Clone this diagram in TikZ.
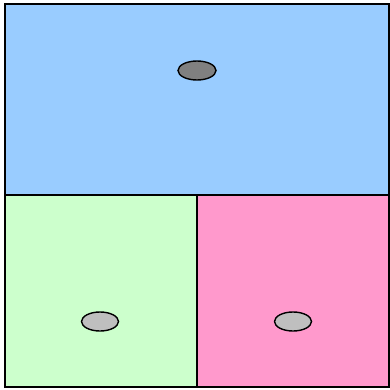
\documentclass[tikz,border=0pt]{standalone}
\usepackage{tikz}
\definecolor{SkyBlue}{HTML}{99CCFF}
\definecolor{MintGreen}{HTML}{CCFFCC}
\definecolor{RosePink}{HTML}{FF99CC}

\begin{document}
\begin{tikzpicture}[x=1pt,y=1pt,line width=1.5pt]
\useasboundingbox (0,0) rectangle (390,389);
\tikzset{spot/.style={draw=black,line width=1.4pt}}
\filldraw[fill=SkyBlue] (5,194) rectangle (389,385);
\filldraw[fill=MintGreen] (5,2) rectangle (197,194);
\filldraw[fill=RosePink] (197,2) rectangle (389,194);
\filldraw[spot,fill=gray] (197,318.5) ellipse (19 and 9.5);
\filldraw[spot,fill=gray!50] (100,67.5) ellipse (18.5 and 9.5);
\filldraw[spot,fill=gray!50] (293,67.5) ellipse (18.5 and 9.5);
\end{tikzpicture}
\end{document}
